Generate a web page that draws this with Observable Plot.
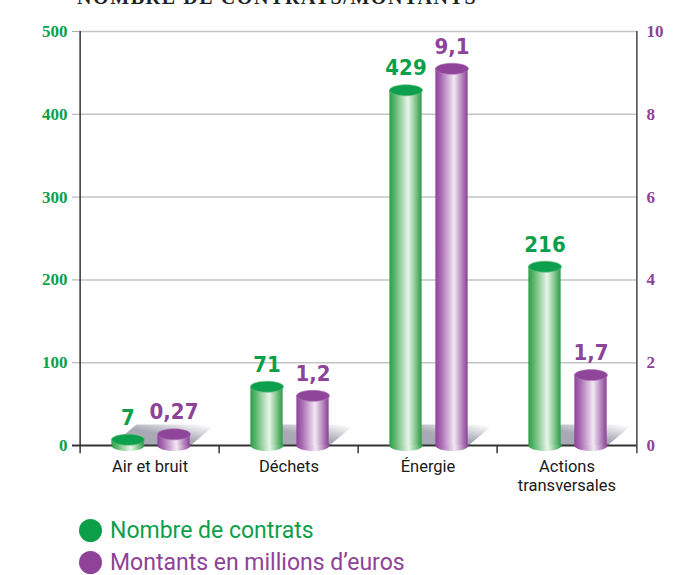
<!DOCTYPE html>
<html>
<head>
<meta charset="utf-8">
<script src="https://cdn.jsdelivr.net/npm/d3@7"></script>
<script src="https://cdn.jsdelivr.net/npm/@observablehq/plot@0.6"></script>
<style>
  html, body { margin: 0; padding: 0; background: #fff; }
  #wrap { position: relative; width: 673px; height: 575px; overflow: hidden; }
  #title { position: absolute; z-index: 2; left: 77px; top: -13px; font-family: "Liberation Serif", serif; font-size: 20px; font-weight: bold; letter-spacing: 1.6px; color: #222; white-space: nowrap; line-height: 20px; }
  #chart { position: absolute; left: 0; top: 0; z-index: 1; }
  #legend { position: absolute; left: 79px; top: 514px; font-family: Roboto, sans-serif; font-size: 23px; z-index: 2; }
  .row { display: flex; align-items: center; height: 32px; }
  .sw { width: 23px; height: 23px; border-radius: 50%; margin-right: 8px; }
</style>
</head>
<body>
<svg width="0" height="0" style="position:absolute">
  <defs>
    <linearGradient id="gGreen" x1="0" x2="1" y1="0" y2="0">
      <stop offset="0" stop-color="#2f9b47"/>
      <stop offset="0.18" stop-color="#5fb86f"/>
      <stop offset="0.58" stop-color="#e8f5ea"/>
      <stop offset="0.82" stop-color="#7cc489"/>
      <stop offset="1" stop-color="#2c9a46"/>
    </linearGradient>
    <linearGradient id="gPurple" x1="0" x2="1" y1="0" y2="0">
      <stop offset="0" stop-color="#8c439a"/>
      <stop offset="0.18" stop-color="#a96bb3"/>
      <stop offset="0.58" stop-color="#f3e8f4"/>
      <stop offset="0.82" stop-color="#b587bd"/>
      <stop offset="1" stop-color="#8a4096"/>
    </linearGradient>
    <linearGradient id="gShadow" x1="0" y1="1" x2="1" y2="0">
      <stop offset="0.5" stop-color="#a9a9b6"/>
      <stop offset="0.95" stop-color="#ffffff"/>
    </linearGradient>
  </defs>
</svg>
<div id="wrap">
  <div id="title">NOMBRE DE CONTRATS/MONTANTS</div>
  <div id="chart"></div>
  <div id="legend"></div>
</div>
<script>
// ---- data ----
const categories = ["Air et bruit", "Déchets", "Énergie", "Actions transversales"];
const xTickLabels = ["Air et bruit", "Déchets", "Énergie", "Actions\ntransversales"];
const contrats = [7, 71, 429, 216];
const montants = [0.27, 1.2, 9.1, 1.7];
const leftTicks = [0, 100, 200, 300, 400, 500];
const rightTicks = [0, 2, 4, 6, 8, 10];
const seriesNames = ["Nombre de contrats", "Montants en millions d’euros"];

// ---- style ----
const green = "#0c9f4a", purple = "#8e4298";
const greenTop = "#0da04c", purpleTop = "#8f4599";
const W = 673, H = 500, mL = 78, mR = 36, mT = 31, mB = 55;
const ratio = leftTicks[leftTicks.length - 1] / rightTicks[rightTicks.length - 1];
const bandW = (W - mL - mR) / categories.length;
const barW = 33, greenOff = -22, purpleOff = 24;
const capRy = 5.5;

function ellipseSymbol(rx, ry) {
  const k = 0.5523;
  return {
    draw(c) {
      c.moveTo(rx, 0);
      c.bezierCurveTo(rx, ry * k, rx * k, ry, 0, ry);
      c.bezierCurveTo(-rx * k, ry, -rx, ry * k, -rx, 0);
      c.bezierCurveTo(-rx, -ry * k, -rx * k, -ry, 0, -ry);
      c.bezierCurveTo(rx * k, -ry, rx, -ry * k, rx, 0);
      c.closePath();
    }
  };
}
const ellipse = ellipseSymbol(barW / 2, capRy);
const shadowW = (purpleOff + barW / 2) - (greenOff - barW / 2);
const shadowSymbol = {
  draw(c) {
    c.moveTo(0, 0);
    c.lineTo(shadowW, 0);
    c.lineTo(shadowW + 25, -21);
    c.lineTo(25, -21);
    c.closePath();
  }
};

const rows = categories.map((c, i) => ({cat: c, contrats: contrats[i], montants: montants[i]}));
const fmt = v => String(v).replace(".", ",");
const inset = off => ({insetLeft: bandW / 2 + off - barW / 2, insetRight: bandW / 2 - off - barW / 2});
const zero = () => 0;
const labelFont = "'DejaVu Sans Condensed', 'Liberation Sans Narrow', sans-serif";
const tickFont = "'Liberation Serif', serif";

const plot = Plot.plot({
  width: W, height: H,
  marginLeft: mL, marginRight: mR, marginTop: mT, marginBottom: mB,
  x: {domain: categories, padding: 0, label: null},
  y: {domain: [0, leftTicks[leftTicks.length - 1]], label: null},
  style: {fontFamily: "Roboto, sans-serif", background: "transparent", overflow: "visible"},
  marks: [
    Plot.gridY(leftTicks.slice(1), {stroke: "#c4c4c4", strokeOpacity: 1, strokeWidth: 1.5}),
    Plot.axisY({ticks: leftTicks, tickSize: 6, tickPadding: 5, stroke: "#aaa", fill: green,
      fontSize: 17, fontWeight: "bold", fontFamily: tickFont, label: null, tickFormat: d => String(d)}),
    Plot.axisY({anchor: "right", ticks: rightTicks.map(t => t * ratio), tickSize: 0, tickPadding: 9,
      fill: purple, fontSize: 17, fontWeight: "bold", fontFamily: tickFont, label: null,
      tickFormat: d => String(d / ratio)}),
    Plot.axisX({tickSize: 0, tickPadding: 12, fontSize: 16.5, fill: "#1a1a1a", label: null, lineHeight: 1.2,
      tickFormat: d => xTickLabels[categories.indexOf(d)]}),
    // floor shadows
    Plot.dot(rows, {x: "cat", y: zero, dx: greenOff - barW / 2, symbol: shadowSymbol, fill: "url(#gShadow)", stroke: "none"}),
    // axis lines
    Plot.ruleY([0], {stroke: "#333", strokeWidth: 2, insetLeft: -6}),
    Plot.ruleX([categories[0]], {dx: -bandW / 2, y1: -10, y2: 500, stroke: "#333", strokeWidth: 1.5}),
    Plot.ruleX([categories[categories.length - 1]], {dx: bandW / 2, y1: -10, y2: 500, stroke: "#444", strokeWidth: 1.5}),
    Plot.ruleX(categories.slice(1), {dx: -bandW / 2, y1: 0, y2: -10, stroke: "#333", strokeWidth: 1.5}),
    // cylinder bottoms
    Plot.dot(rows, {x: "cat", y: zero, dx: greenOff, symbol: ellipse, fill: "url(#gGreen)", stroke: "none"}),
    Plot.dot(rows, {x: "cat", y: zero, dx: purpleOff, symbol: ellipse, fill: "url(#gPurple)", stroke: "none"}),
    // cylinder bodies
    Plot.barY(rows, {x: "cat", y: "contrats", ...inset(greenOff), fill: "url(#gGreen)"}),
    Plot.barY(rows, {x: "cat", y: d => d.montants * ratio, ...inset(purpleOff), fill: "url(#gPurple)"}),
    // cylinder tops
    Plot.dot(rows, {x: "cat", y: "contrats", dx: greenOff, symbol: ellipse, fill: greenTop, stroke: "#6cc07f", strokeWidth: 0.6}),
    Plot.dot(rows, {x: "cat", y: d => d.montants * ratio, dx: purpleOff, symbol: ellipse, fill: purpleTop, stroke: "#b27ab9", strokeWidth: 0.6}),
    // value labels
    Plot.text(rows, {x: "cat", y: "contrats", dx: greenOff, dy: -22, text: d => fmt(d.contrats),
      fill: green, fontSize: 22, fontWeight: "bold", fontFamily: labelFont}),
    Plot.text(rows, {x: "cat", y: d => d.montants * ratio, dx: purpleOff, dy: -22, text: d => fmt(d.montants),
      fill: purple, fontSize: 22, fontWeight: "bold", fontFamily: labelFont})
  ]
});
document.getElementById("chart").appendChild(plot);

const legendColors = [green, purple];
const legend = d3.select("#legend");
seriesNames.forEach((name, i) => {
  const r = legend.append("div").attr("class", "row");
  r.append("div").attr("class", "sw").style("background", legendColors[i]);
  r.append("span").style("color", legendColors[i]).text(name);
});
</script>
</body>
</html>
